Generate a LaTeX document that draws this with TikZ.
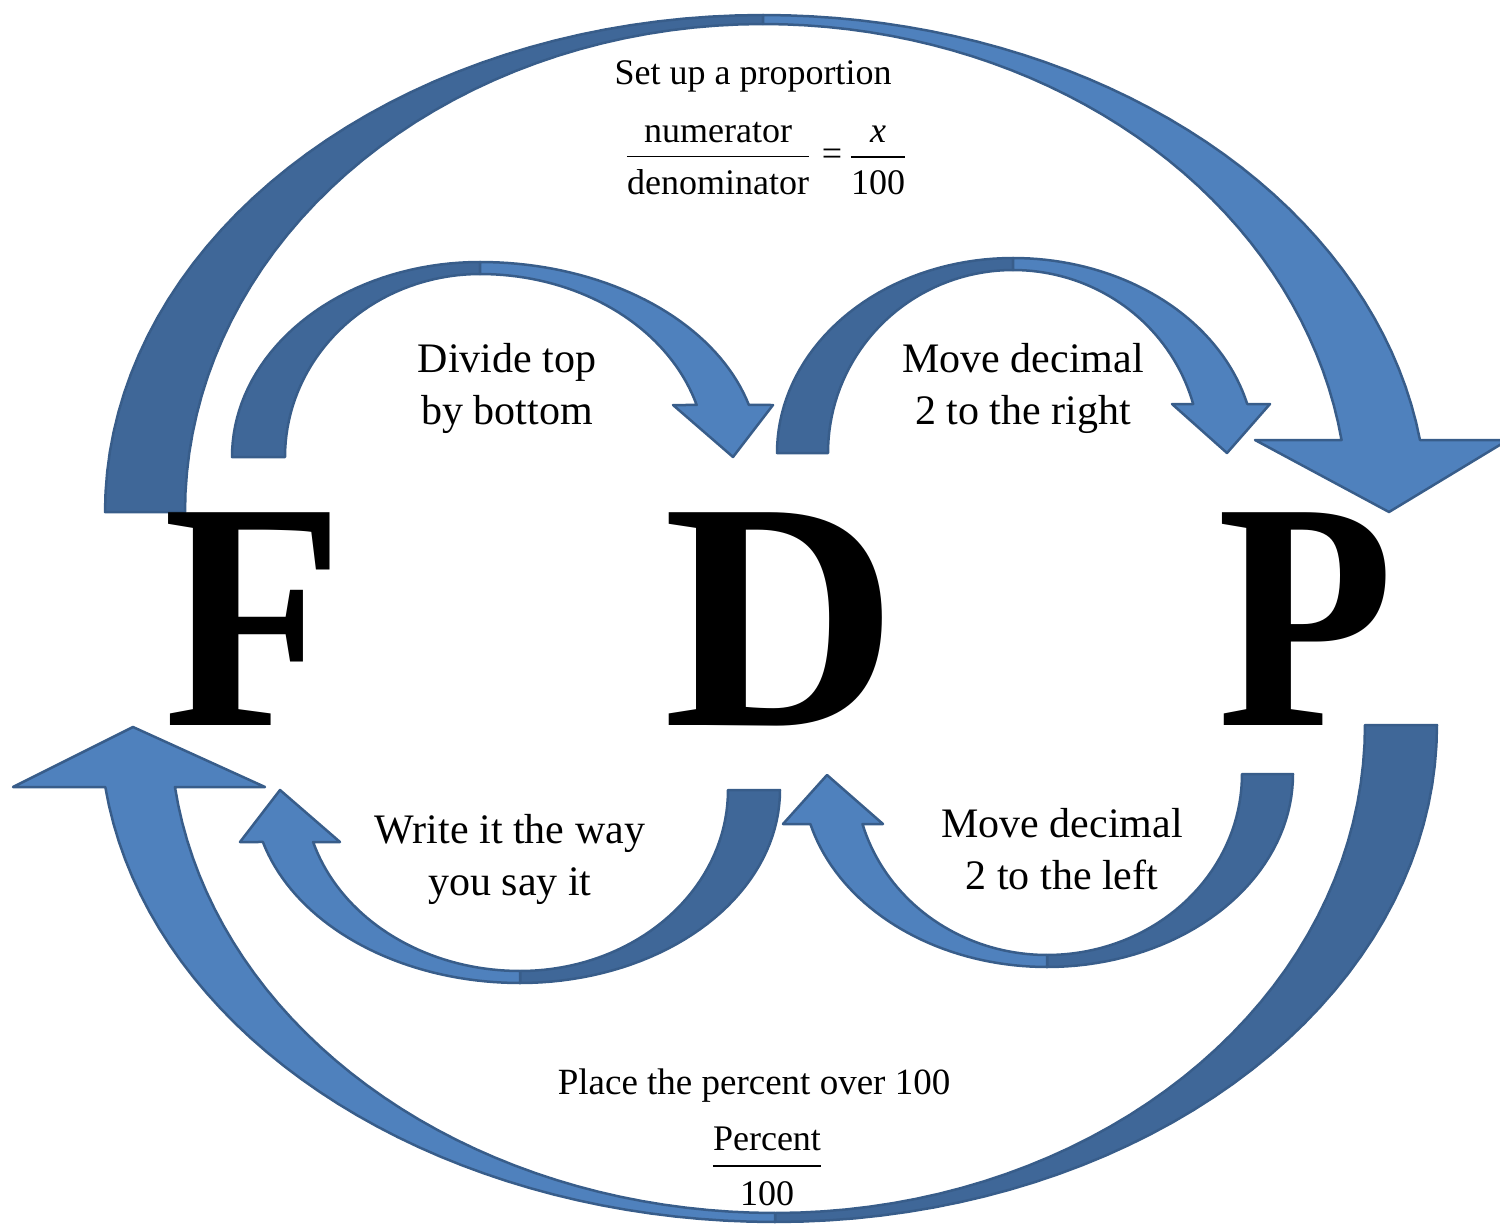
\documentclass[tikz,border=0pt]{standalone}
\usepackage{fontspec}
\setmainfont{Liberation Serif}
\usepackage{graphicx}
\usepackage{tikz}
\usetikzlibrary{calc}
\definecolor{frontblue}{RGB}{79,129,189}
\definecolor{backblue}{RGB}{63,103,152}
\definecolor{edgeblue}{RGB}{56,93,138}
\def\bandarc(#1,#2)(#3:#4:#5:#6)% Syntax: (centre) (initial angle:final angle:x radius:y radius)
    {-- plot[domain=#3:#4,samples=40] ({#1+#5*cos(\x)},{#2-(#6)*sin(\x)})}

\begin{document}
\begin{tikzpicture}[x=1pt,y=-1pt,
  tailpart/.style={fill=backblue,draw=edgeblue,line width=2.5,line join=round},
  headpart/.style={fill=frontblue,draw=edgeblue,line width=2.5,line join=round},
  bigletter/.style={font=\fontsize{325}{325}\selectfont\bfseries,inner sep=0,anchor=base},
  steptext/.style={font=\fontsize{42}{52}\selectfont,align=center,inner sep=0,anchor=north},
  ruletext/.style={font=\fontsize{36}{44}\selectfont,inner sep=0,anchor=base},
  fracbar/.style={line width=1.6}]
  \useasboundingbox (0,0) rectangle (1500,1225);
  \clip (0,0) rectangle (1500,1225);

  % big arrow over the top, F to P
  \path[tailpart] (105,512) \bandarc(763,512)(180:90:658:497) \bandarc(763,512)(90:180:578:488) -- cycle;
  \path[headpart] (763,15) \bandarc(763,512)(90:8.33:664:497) -- (1508,440) -- (1389,512) -- (1255,440)
    \bandarc(763,512)(8.48:90:585:488) -- cycle;

  % big arrow under the bottom, P to F
  \path[tailpart] (1437,725) \bandarc(775,725)(0:90:662:-497) \bandarc(775,725)(90:0:590:-488) -- cycle;
  \path[headpart] (775,1222) \bandarc(775,725)(90:172.83:675:-497) -- (13,787) -- (133,727) -- (265,787)
    \bandarc(775,725)(172.7:90:605:-488) -- cycle;

  % small arrows on top
  \path[tailpart] (232,457) \bandarc(480,457)(180:90:248:195) \bandarc(480,457)(90:180:195:183) -- cycle;
  \path[headpart] (480,262) \bandarc(480,457)(90:15.47:279:195) -- (773,405) -- (733,457) -- (673,405)
    \bandarc(480,457)(16.51:90:226:183) -- cycle;
  \path[tailpart] (777,453) \bandarc(1013,453)(180:90:236:195) \bandarc(1013,453)(90:180:185:183) -- cycle;
  \path[headpart] (1013,258) \bandarc(1013,453)(90:14.55:242:195) -- (1270,404) -- (1227,453) -- (1172,404)
    \bandarc(1013,453)(15.53:90:187:183) -- cycle;

  % small arrows underneath
  \path[tailpart] (780,790) \bandarc(520,790)(0:90:260:-193) \bandarc(520,790)(90:0:208:-181) -- cycle;
  \path[headpart] (520,983) \bandarc(520,790)(90:164.37:267:-193) -- (240,842) -- (280,790) -- (340,842)
    \bandarc(520,790)(163.3:90:216:-181) -- cycle;
  \path[tailpart] (1293,774) \bandarc(1047,774)(0:90:246:-193) \bandarc(1047,774)(90:0:195:-181) -- cycle;
  \path[headpart] (1047,967) \bandarc(1047,774)(90:164.98:245:-193) -- (783,824) -- (827,775) -- (883,824)
    \bandarc(1047,774)(163.96:90:192:-181) -- cycle;

  % letters
  \node[bigletter] (F) at (254,725) {\scalebox{0.91}[1]{F}};
  \node[bigletter] (D) at (781,725) {D};
  \node[bigletter] (P) at (1306,725) {\scalebox{0.89}[1]{P}};

  % top label and proportion
  \node[ruletext] (setup) at (753,85) {Set up a proportion};
  \node[ruletext] (num) at (718,143) {numerator};
  \node[ruletext] (den) at (718,195) {denominator};
  \node[ruletext] (equals) at (832,166) {=};
  \node[ruletext] (xvar) at (878,143) {\textit{x}};
  \node[ruletext] (hundred) at (878,195) {100};
  \coordinate (bar1) at ($(num.south)!.5!(den.north)$);
  \draw[fracbar] (bar1 -| den.west) -- (bar1 -| den.east);
  \coordinate (bar2) at ($(xvar.south)!.5!(hundred.north)$);
  \draw[fracbar] (bar2 -| hundred.west) -- (bar2 -| hundred.east);

  % step labels
  \node[steptext] (divide) at (507,343) {Divide top\\by bottom};
  \node[steptext] (torightstep) at (1023,343) {Move decimal\\2 to the right};
  \node[steptext] (sayit) at (510,814) {Write it the way\\you say it};
  \node[steptext] (toleftstep) at (1062,808) {Move decimal\\2 to the left};

  % bottom label and percent
  \node[ruletext,font=\fontsize{37}{44}\selectfont] (place) at (754,1094) {Place the percent over 100};
  \node[ruletext] (pnum) at (767,1150) {Percent};
  \node[ruletext] (pden) at (767,1205) {100};
  \coordinate (bar3) at ($(pnum.south)!.5!(pden.north)$);
  \draw[fracbar] (bar3 -| pnum.west) -- (bar3 -| pnum.east);
\end{tikzpicture}
\end{document}
